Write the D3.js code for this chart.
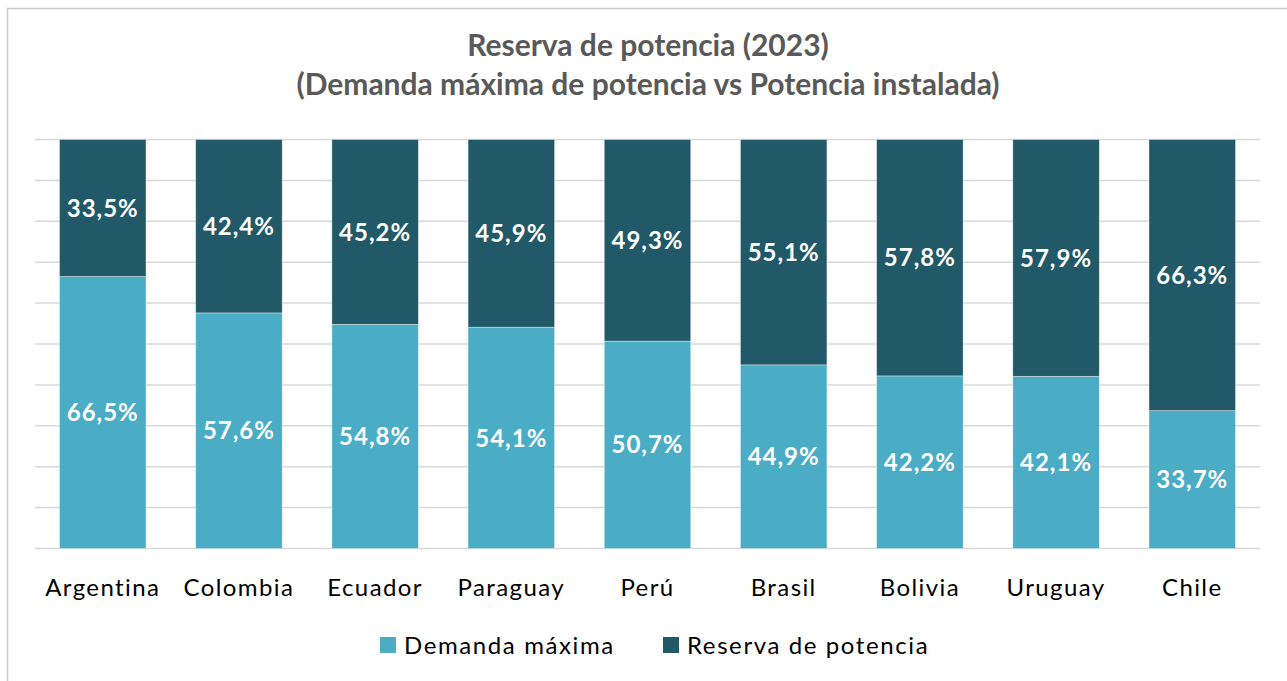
<!DOCTYPE html>
<html>
<head>
<meta charset="utf-8">
<script src="https://cdn.jsdelivr.net/npm/d3@7"></script>
<style>
  html, body { margin: 0; padding: 0; background: #fff; }
  svg { display: block; }
</style>
</head>
<body>
<div id="chart"></div>
<script>
const countries = ['Argentina', 'Colombia', 'Ecuador', 'Paraguay', 'Perú', 'Brasil', 'Bolivia', 'Uruguay', 'Chile'];
const demanda = [66.5, 57.6, 54.8, 54.1, 50.7, 44.9, 42.2, 42.1, 33.7];
const reserva = [33.5, 42.4, 45.2, 45.9, 49.3, 55.1, 57.8, 57.9, 66.3];
const seriesNames = ['Demanda máxima', 'Reserva de potencia'];
const gridTicks = [0, 10, 20, 30, 40, 50, 60, 70, 80, 90, 100];
const titleLines = ['Reserva de potencia (2023)', '(Demanda máxima de potencia vs Potencia instalada)'];

const W = 1287, H = 681;
const FONT = 'Lato, "Open Sans", sans-serif';
const colors = ['#4bacc6', '#215968'];
const margin = { top: 139.5, right: 27, bottom: 132.5, left: 35 };
const innerW = W - margin.left - margin.right;
const innerH = H - margin.top - margin.bottom;

const svg = d3.select('#chart').append('svg')
  .attr('width', W).attr('height', H);

// chart frame (only top and left edges fall inside the picture)
svg.append('rect')
  .attr('x', 7.5).attr('y', 8.5).attr('width', W + 20).attr('height', H + 20)
  .attr('fill', 'none').attr('stroke', '#c9c9c9').attr('stroke-width', 1.5);

svg.selectAll('text.title').data(titleLines).join('text')
  .attr('class', 'title')
  .attr('x', 648).attr('y', (d, i) => 56 + i * 39)
  .attr('text-anchor', 'middle')
  .attr('font-family', FONT).attr('font-weight', 'bold').attr('font-size', 30)
  .attr('fill', '#595959')
  .text((d) => d);

const g = svg.append('g').attr('transform', `translate(${margin.left},${margin.top})`);

const x = d3.scaleBand().domain(countries).range([0, innerW]).paddingInner(0.365).paddingOuter(0.18);
const y = d3.scaleLinear().domain([0, 100]).range([innerH, 0]);

g.append('g').selectAll('line').data(gridTicks).join('line')
  .attr('x1', 0).attr('x2', innerW)
  .attr('y1', (d) => y(d)).attr('y2', (d) => y(d))
  .attr('stroke', '#d9d9d9').attr('stroke-width', 1.5);

const rows = countries.map((c, i) => ({ country: c, demanda: demanda[i], reserva: reserva[i] }));
const stacked = d3.stack().keys(['demanda', 'reserva'])(rows);

const fmt = (v) => v.toFixed(1).replace('.', ',') + '%';

stacked.forEach((layer, li) => {
  const lg = g.append('g');
  lg.selectAll('rect').data(layer).join('rect')
    .attr('x', (d) => x(d.data.country))
    .attr('y', (d) => y(d[1]))
    .attr('width', x.bandwidth())
    .attr('height', (d) => y(d[0]) - y(d[1]))
    .attr('fill', colors[li])
    .attr('stroke', '#ffffff').attr('stroke-opacity', 0.5).attr('stroke-width', 0.75);
  lg.selectAll('text').data(layer).join('text')
    .attr('x', (d) => x(d.data.country) + x.bandwidth() / 2)
    .attr('y', (d) => y((d[0] + d[1]) / 2))
    .attr('dy', '0.36em')
    .attr('text-anchor', 'middle')
    .attr('font-family', FONT).attr('font-weight', 'bold').attr('font-size', 24)
    .attr('letter-spacing', 1)
    .attr('fill', '#ffffff')
    .text((d) => fmt(d[1] - d[0]));
});

const xAxis = g.append('g').attr('transform', `translate(0,${innerH})`)
  .call(d3.axisBottom(x).tickSize(0));
xAxis.select('.domain').remove();
xAxis.selectAll('text')
  .attr('y', 47).attr('dy', 0)
  .attr('font-family', FONT).attr('font-size', 24).attr('letter-spacing', 1.4)
  .attr('fill', '#000000');

// legend
const legendItems = [
  { name: seriesNames[0], color: colors[0], x: 380 },
  { name: seriesNames[1], color: colors[1], x: 663 }
];
const lgd = svg.append('g');
legendItems.forEach((it) => {
  lgd.append('rect').attr('x', it.x).attr('y', 637).attr('width', 16).attr('height', 16).attr('fill', it.color);
  lgd.append('text').attr('x', it.x + 24).attr('y', 654)
    .attr('font-family', FONT).attr('font-size', 24).attr('letter-spacing', 1.6)
    .attr('fill', '#000000')
    .text(it.name);
});
</script>
</body>
</html>
